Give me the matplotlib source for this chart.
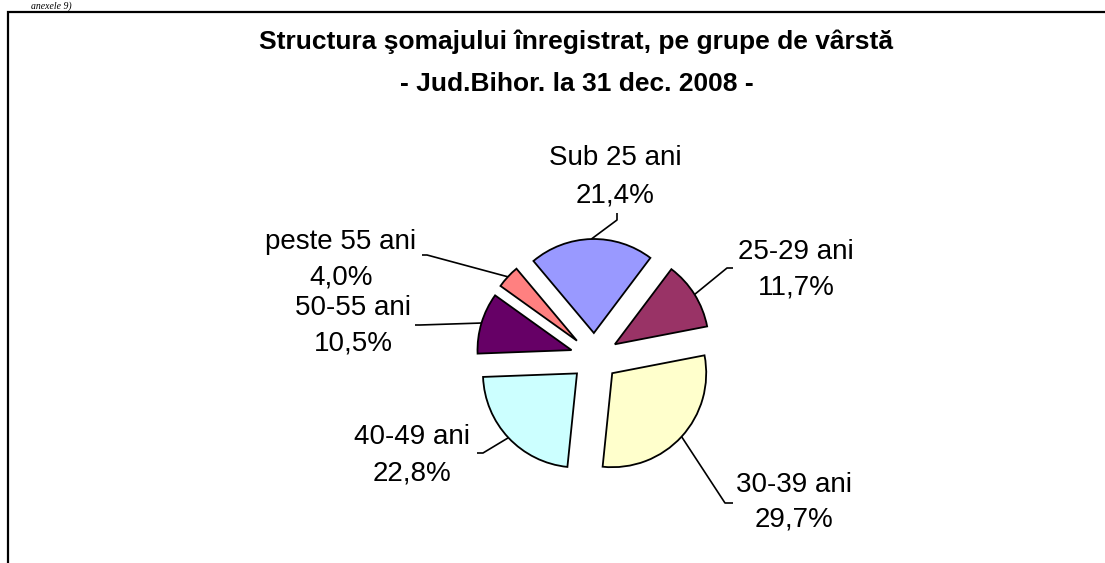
import numpy as np
import matplotlib
matplotlib.use("Agg")
import matplotlib.pyplot as plt

# ----------------------------
# DATA
# ----------------------------
categories = ["Sub 25 ani", "25-29 ani", "30-39 ani", "40-49 ani", "50-55 ani", "peste 55 ani"]
shares = [21.4, 11.7, 29.7, 22.8, 10.5, 4.0]
colors = ["#9999FF", "#993366", "#FFFFCC", "#CCFFFF", "#660066", "#FF8080"]

title_lines = ["Structura şomajului înregistrat, pe grupe de vârstă",
               "- Jud.Bihor. la 31 dec. 2008 -"]

# label layout in image pixels (y from top): text x, line1 y, line2 y, leader elbow, leader end
label_layout = [
    (615, 158, 195, (617, 220), (617, 213)),
    (796, 252, 288, (727, 268), (733, 268)),
    (794, 485, 520, (725, 503), (733, 503)),
    (412, 437, 473, (483, 453), (477, 453)),
    (353, 308, 343, (420, 325), (415, 325)),
    (341, 242, 277, (427, 255), (422, 255)),
]

W, H = 1105, 563

plt.rcParams['font.family'] = ['Liberation Sans', 'DejaVu Sans']

fig = plt.figure(figsize=(W / 100, H / 100), dpi=100)
ax = fig.add_axes([0, 0, 1, 1])


def iy(y):
    # image y (top down) -> data y
    return H - y


# explode is in data units here (radius 94 px, slices pulled out ~24 px)
wedges, _ = ax.pie(shares, colors=colors, startangle=130, counterclock=False,
                   explode=[24] * len(shares), radius=94, center=(594.5, iy(357)),
                   wedgeprops=dict(edgecolor="black", linewidth=1.3))

ax.set_xlim(0, W)
ax.set_ylim(0, H)
ax.set_aspect("equal")
ax.axis("off")

# ----------------------------
# LABELS + LEADER LINES
# ----------------------------
for w, cat, val, (tx, y1, y2, elbow, end) in zip(wedges, categories, shares, label_layout):
    mid = np.deg2rad((w.theta1 + w.theta2) / 2)
    cx, cy = w.center
    arc_pt = (cx + w.r * np.cos(mid), cy + w.r * np.sin(mid))
    xs = [arc_pt[0], elbow[0], end[0]]
    ys = [arc_pt[1], iy(elbow[1]), iy(end[1])]
    ax.plot(xs, ys, color="black", lw=1.2, solid_capstyle="butt")
    pct = f"{val:.1f}".replace(".", ",") + "%"
    ax.text(tx, iy(y1), cat, ha="center", va="center", fontsize=20)
    ax.text(tx, iy(y2), pct, ha="center", va="center", fontsize=20)

# ----------------------------
# TITLE
# ----------------------------
ax.text(576, iy(42), title_lines[0], ha="center", va="center",
        fontsize=19, fontweight="bold")
ax.text(577, iy(84), title_lines[1], ha="center", va="center",
        fontsize=19, fontweight="bold")

# ----------------------------
# FRAME (chart area border, cut at right / bottom)
# ----------------------------
ax.plot([8, 8, W + 5], [iy(H + 5), iy(12), iy(12)], color="black", lw=1.6,
        solid_joinstyle="miter", clip_on=False)

# leftover of page text above the chart
ax.text(72, iy(1), "anexele 9)", ha="right", va="top", fontsize=7,
        family="Liberation Serif", style="italic")

fig.savefig("out.png", dpi=100)
